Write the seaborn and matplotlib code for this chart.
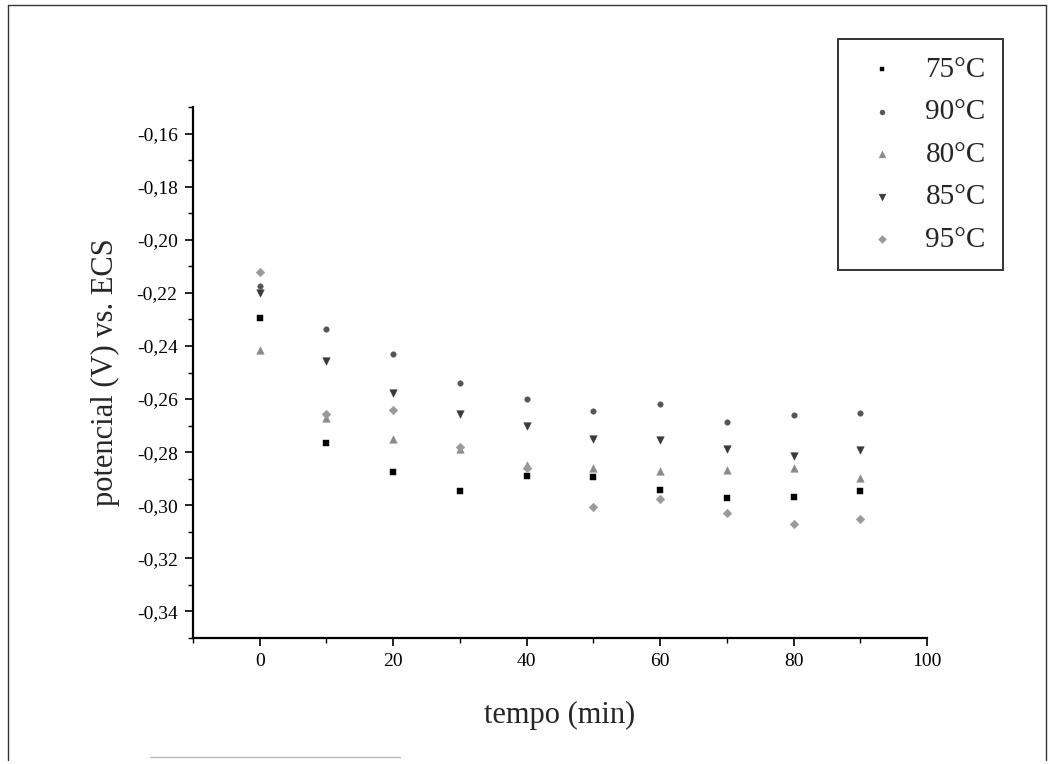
import matplotlib
matplotlib.use("Agg")
import matplotlib.pyplot as plt
import matplotlib.ticker as mticker
from matplotlib.lines import Line2D
import seaborn as sns
import pandas as pd

# ---- data ----
tempo = [0, 10, 20, 30, 40, 50, 60, 70, 80, 90]
series_names = ["75°C", "90°C", "80°C", "85°C", "95°C"]
t75 = [-0.2294, -0.2765, -0.2874, -0.2947, -0.2888, -0.2892, -0.2944, -0.2971, -0.2969, -0.2945]
t90 = [-0.2173, -0.2335, -0.2429, -0.2538, -0.2598, -0.2646, -0.2620, -0.2686, -0.2661, -0.2651]
t80 = [-0.2414, -0.2670, -0.2749, -0.2790, -0.2850, -0.2860, -0.2871, -0.2868, -0.2860, -0.2899]
t85 = [-0.2201, -0.2458, -0.2576, -0.2655, -0.2701, -0.2749, -0.2755, -0.2789, -0.2814, -0.2792]
t95 = [-0.2122, -0.2655, -0.2640, -0.2780, -0.2860, -0.3006, -0.2976, -0.3031, -0.3070, -0.3052]

values = [t75, t90, t80, t85, t95]
rows = []
for name, vals in zip(series_names, values):
    for t, v in zip(tempo, vals):
        rows.append({"tempo": t, "pot": v, "serie": name})
df = pd.DataFrame(rows)

sns.set_theme(style="white")
plt.rcParams["font.family"] = ["Liberation Serif", "DejaVu Serif"]

fig = plt.figure(figsize=(10.52, 7.64), dpi=100)
ax = fig.add_axes([193 / 1052, 1 - 638 / 764, (927 - 193) / 1052, (638 - 107) / 764])

palette = {"75°C": "#000000", "90°C": "#555555", "80°C": "#8a8a8a",
           "85°C": "#3a3a3a", "95°C": "#9a9a9a"}
markers = {"75°C": "s", "90°C": "o", "80°C": "^", "85°C": "v", "95°C": "D"}
sizes_map = {"75°C": 14, "90°C": 16, "80°C": 30, "85°C": 30, "95°C": 20}

for name in series_names:
    sub = df[df["serie"] == name]
    sns.scatterplot(data=sub, x="tempo", y="pot", ax=ax, color=palette[name],
                    marker=markers[name], s=sizes_map[name], linewidth=0.3,
                    edgecolor=palette[name], label=name, legend=True)

ax.set_xlim(-10, 100)
ax.set_ylim(-0.35, -0.15)
ax.xaxis.set_major_locator(mticker.MultipleLocator(20))
ax.xaxis.set_minor_locator(mticker.MultipleLocator(10))
ax.yaxis.set_major_locator(mticker.FixedLocator([-0.16, -0.18, -0.20, -0.22, -0.24, -0.26,
                                                 -0.28, -0.30, -0.32, -0.34]))
ax.yaxis.set_minor_locator(mticker.MultipleLocator(0.01))
ax.yaxis.set_major_formatter(mticker.FuncFormatter(lambda v, p: ("%.2f" % v).replace(".", ",")))
ax.xaxis.set_major_formatter(mticker.FuncFormatter(lambda v, p: "%d" % round(v)))

for side in ["top", "right"]:
    ax.spines[side].set_visible(False)
for side in ["left", "bottom"]:
    ax.spines[side].set_color("black")
    ax.spines[side].set_linewidth(1.6)

ax.tick_params(axis="both", which="major", direction="out", length=6, width=1.2,
               colors="black", labelsize=14, left=True, bottom=True, pad=5)
ax.tick_params(axis="both", which="minor", direction="out", length=3.5, width=1.0,
               colors="black", left=True, bottom=True)

ax.set_xlabel("tempo (min)", fontsize=22, labelpad=22)
ax.set_ylabel("potencial (V) vs. ECS", fontsize=22, labelpad=12)

leg = ax.legend(loc="upper left", bbox_to_anchor=(838 / 1052, 1 - 39 / 764),
                bbox_transform=fig.transFigure, frameon=True, fancybox=False,
                borderaxespad=0.0, fontsize=21, markerscale=0.9,
                handletextpad=0.6, borderpad=0.6, labelspacing=0.55,
                handlelength=1.8)
leg.get_frame().set_edgecolor("black")
leg.get_frame().set_linewidth(1.4)

# scanned page frame
for (x0, y0, x1, y1) in [(8, 5, 1046, 5), (8, 5, 8, 760), (1046, 5, 1046, 760)]:
    fig.add_artist(Line2D([x0 / 1052, x1 / 1052], [1 - y0 / 764, 1 - y1 / 764],
                          transform=fig.transFigure, color="#333333", lw=1.0))
fig.add_artist(Line2D([150 / 1052, 400 / 1052], [1 - 757 / 764, 1 - 757 / 764],
                      transform=fig.transFigure, color="#bbbbbb", lw=1.0))

fig.savefig("out.png", dpi=100)
